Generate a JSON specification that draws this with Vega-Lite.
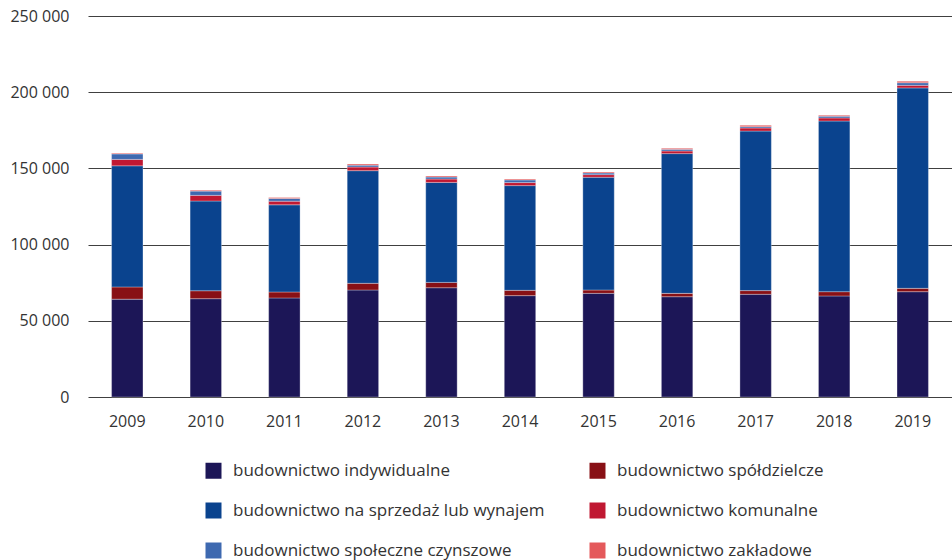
{
  "$schema": "https://vega.github.io/schema/vega-lite/v6.json",
  "autosize": {"type": "none"},
  "padding": {"left": 88, "top": 16, "right": 0, "bottom": 163},
  "width": 864,
  "height": 381,
  "background": "#ffffff",
  "config": {
    "font": "Open Sans",
    "view": {"stroke": null},
    "axis": {"labelFont": "Open Sans", "labelFontSize": 16, "labelColor": "#333333"},
    "legend": {"labelFont": "Open Sans", "labelFontSize": 17, "labelColor": "#333333"}
  },
  "data": {
    "values": [
      {"rok": "2009", "o": 1, "typ": "budownictwo indywidualne", "v": 64200},
      {"rok": "2009", "o": 2, "typ": "budownictwo spółdzielcze", "v": 8000},
      {"rok": "2009", "o": 3, "typ": "budownictwo na sprzedaż lub wynajem", "v": 79500},
      {"rok": "2009", "o": 4, "typ": "budownictwo komunalne", "v": 4200},
      {"rok": "2009", "o": 5, "typ": "budownictwo społeczne czynszowe", "v": 3600},
      {"rok": "2009", "o": 6, "typ": "budownictwo zakładowe", "v": 500},
      {"rok": "2010", "o": 1, "typ": "budownictwo indywidualne", "v": 64500},
      {"rok": "2010", "o": 2, "typ": "budownictwo spółdzielcze", "v": 5200},
      {"rok": "2010", "o": 3, "typ": "budownictwo na sprzedaż lub wynajem", "v": 58900},
      {"rok": "2010", "o": 4, "typ": "budownictwo komunalne", "v": 3700},
      {"rok": "2010", "o": 5, "typ": "budownictwo społeczne czynszowe", "v": 2800},
      {"rok": "2010", "o": 6, "typ": "budownictwo zakładowe", "v": 600},
      {"rok": "2011", "o": 1, "typ": "budownictwo indywidualne", "v": 65000},
      {"rok": "2011", "o": 2, "typ": "budownictwo spółdzielcze", "v": 3900},
      {"rok": "2011", "o": 3, "typ": "budownictwo na sprzedaż lub wynajem", "v": 57200},
      {"rok": "2011", "o": 4, "typ": "budownictwo komunalne", "v": 2400},
      {"rok": "2011", "o": 5, "typ": "budownictwo społeczne czynszowe", "v": 1800},
      {"rok": "2011", "o": 6, "typ": "budownictwo zakładowe", "v": 600},
      {"rok": "2012", "o": 1, "typ": "budownictwo indywidualne", "v": 70200},
      {"rok": "2012", "o": 2, "typ": "budownictwo spółdzielcze", "v": 4400},
      {"rok": "2012", "o": 3, "typ": "budownictwo na sprzedaż lub wynajem", "v": 73900},
      {"rok": "2012", "o": 4, "typ": "budownictwo komunalne", "v": 2400},
      {"rok": "2012", "o": 5, "typ": "budownictwo społeczne czynszowe", "v": 1200},
      {"rok": "2012", "o": 6, "typ": "budownictwo zakładowe", "v": 800},
      {"rok": "2013", "o": 1, "typ": "budownictwo indywidualne", "v": 71700},
      {"rok": "2013", "o": 2, "typ": "budownictwo spółdzielcze", "v": 3500},
      {"rok": "2013", "o": 3, "typ": "budownictwo na sprzedaż lub wynajem", "v": 65600},
      {"rok": "2013", "o": 4, "typ": "budownictwo komunalne", "v": 2200},
      {"rok": "2013", "o": 5, "typ": "budownictwo społeczne czynszowe", "v": 1300},
      {"rok": "2013", "o": 6, "typ": "budownictwo zakładowe", "v": 700},
      {"rok": "2014", "o": 1, "typ": "budownictwo indywidualne", "v": 66500},
      {"rok": "2014", "o": 2, "typ": "budownictwo spółdzielcze", "v": 3500},
      {"rok": "2014", "o": 3, "typ": "budownictwo na sprzedaż lub wynajem", "v": 68700},
      {"rok": "2014", "o": 4, "typ": "budownictwo komunalne", "v": 2000},
      {"rok": "2014", "o": 5, "typ": "budownictwo społeczne czynszowe", "v": 1700},
      {"rok": "2014", "o": 6, "typ": "budownictwo zakładowe", "v": 600},
      {"rok": "2015", "o": 1, "typ": "budownictwo indywidualne", "v": 68000},
      {"rok": "2015", "o": 2, "typ": "budownictwo spółdzielcze", "v": 2200},
      {"rok": "2015", "o": 3, "typ": "budownictwo na sprzedaż lub wynajem", "v": 74000},
      {"rok": "2015", "o": 4, "typ": "budownictwo komunalne", "v": 1700},
      {"rok": "2015", "o": 5, "typ": "budownictwo społeczne czynszowe", "v": 1100},
      {"rok": "2015", "o": 6, "typ": "budownictwo zakładowe", "v": 600},
      {"rok": "2016", "o": 1, "typ": "budownictwo indywidualne", "v": 65800},
      {"rok": "2016", "o": 2, "typ": "budownictwo spółdzielcze", "v": 2200},
      {"rok": "2016", "o": 3, "typ": "budownictwo na sprzedaż lub wynajem", "v": 91700},
      {"rok": "2016", "o": 4, "typ": "budownictwo komunalne", "v": 1700},
      {"rok": "2016", "o": 5, "typ": "budownictwo społeczne czynszowe", "v": 1100},
      {"rok": "2016", "o": 6, "typ": "budownictwo zakładowe", "v": 700},
      {"rok": "2017", "o": 1, "typ": "budownictwo indywidualne", "v": 67400},
      {"rok": "2017", "o": 2, "typ": "budownictwo spółdzielcze", "v": 2400},
      {"rok": "2017", "o": 3, "typ": "budownictwo na sprzedaż lub wynajem", "v": 104700},
      {"rok": "2017", "o": 4, "typ": "budownictwo komunalne", "v": 2000},
      {"rok": "2017", "o": 5, "typ": "budownictwo społeczne czynszowe", "v": 900},
      {"rok": "2017", "o": 6, "typ": "budownictwo zakładowe", "v": 900},
      {"rok": "2018", "o": 1, "typ": "budownictwo indywidualne", "v": 66300},
      {"rok": "2018", "o": 2, "typ": "budownictwo spółdzielcze", "v": 2800},
      {"rok": "2018", "o": 3, "typ": "budownictwo na sprzedaż lub wynajem", "v": 112000},
      {"rok": "2018", "o": 4, "typ": "budownictwo komunalne", "v": 2000},
      {"rok": "2018", "o": 5, "typ": "budownictwo społeczne czynszowe", "v": 1100},
      {"rok": "2018", "o": 6, "typ": "budownictwo zakładowe", "v": 700},
      {"rok": "2019", "o": 1, "typ": "budownictwo indywidualne", "v": 69100},
      {"rok": "2019", "o": 2, "typ": "budownictwo spółdzielcze", "v": 2200},
      {"rok": "2019", "o": 3, "typ": "budownictwo na sprzedaż lub wynajem", "v": 131500},
      {"rok": "2019", "o": 4, "typ": "budownictwo komunalne", "v": 1700},
      {"rok": "2019", "o": 5, "typ": "budownictwo społeczne czynszowe", "v": 1700},
      {"rok": "2019", "o": 6, "typ": "budownictwo zakładowe", "v": 1000}
    ]
  },
  "mark": {"type": "bar", "stroke": "#ffffff", "strokeWidth": 0.6, "strokeOpacity": 0.5},
  "encoding": {
    "x": {
      "field": "rok", "type": "ordinal",
      "scale": {"paddingInner": 0.6, "paddingOuter": 0.3},
      "axis": {"title": null, "labelAngle": 0, "domain": false, "ticks": false, "labelPadding": 16, "grid": false}
    },
    "y": {
      "field": "v", "type": "quantitative", "stack": "zero",
      "scale": {"domain": [0, 250000], "nice": false},
      "axis": {
        "title": null, "values": [0, 50000, 100000, 150000, 200000, 250000],
        "labelExpr": "replace(format(datum.value, ','), ',', ' ')",
        "domain": false, "ticks": false, "labelPadding": 19,
        "grid": true, "gridColor": "#404040", "gridWidth": 1
      }
    },
    "color": {
      "field": "typ", "type": "nominal",
      "sort": ["budownictwo indywidualne", "budownictwo spółdzielcze", "budownictwo na sprzedaż lub wynajem", "budownictwo komunalne", "budownictwo społeczne czynszowe", "budownictwo zakładowe"],
      "scale": {
        "domain": ["budownictwo indywidualne", "budownictwo spółdzielcze", "budownictwo na sprzedaż lub wynajem", "budownictwo komunalne", "budownictwo społeczne czynszowe", "budownictwo zakładowe"],
        "range": ["#1c1657", "#881015", "#0a438e", "#c01832", "#3e69b0", "#e4595b"]
      },
      "legend": {
        "title": null, "orient": "none", "legendX": 117, "legendY": 446,
        "direction": "horizontal",
        "columns": 2, "columnPadding": 44, "rowPadding": 22,
        "symbolType": "square", "symbolSize": 256, "symbolStrokeWidth": 0, "symbolOpacity": 1,
        "labelOffset": 11, "labelLimit": 500
      }
    },
    "order": {"field": "o", "type": "quantitative", "sort": "ascending"}
  }
}
